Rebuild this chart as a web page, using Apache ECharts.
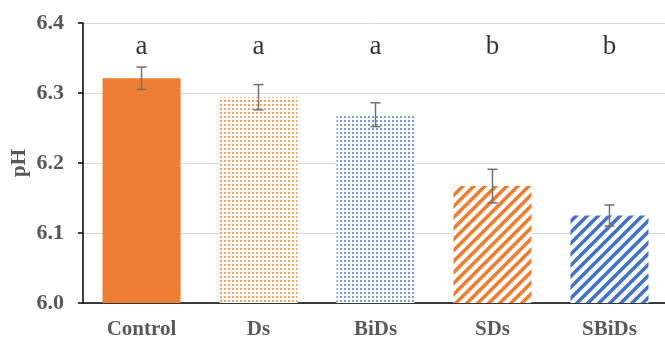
<!DOCTYPE html>
<html>
<head>
<meta charset="utf-8">
<script src="https://cdn.jsdelivr.net/npm/echarts@6/dist/echarts.min.js"></script>
<style>
  html, body { margin: 0; padding: 0; background: #ffffff; }
  #chart { width: 665px; height: 339px; }
</style>
</head>
<body>
<div id="chart"></div>
<script>
// Treatments and measured soil pH (mean ± error)
const categories = ['Control', 'Ds', 'BiDs', 'SDs', 'SBiDs'];
const phMean = [6.321, 6.294, 6.269, 6.167, 6.125];
const phError = [0.016, 0.018, 0.017, 0.024, 0.015];
const groupLetters = ['a', 'a', 'a', 'b', 'b'];
const letterLevel = 6.366;
const yTicks = [6.0, 6.1, 6.2, 6.3, 6.4];

const ORANGE = '#ED7D31';
const BLUE = '#4472C4';
const TEXT_GRAY = '#595959';
const FONT = '"Liberation Serif", "Times New Roman", serif';

// Small dotted fill tile
function dotPattern(color) {
  const c = document.createElement('canvas');
  c.width = 4; c.height = 4;
  const ctx = c.getContext('2d');
  ctx.fillStyle = '#ffffff';
  ctx.fillRect(0, 0, 4, 4);
  ctx.globalAlpha = 0.7;
  ctx.fillStyle = color;
  ctx.fillRect(0, 0, 2, 2);
  return { image: c, repeat: 'repeat' };
}

// Wide upward diagonal stripe tile
function stripePattern(color) {
  const s = 11;
  const c = document.createElement('canvas');
  c.width = s; c.height = s;
  const ctx = c.getContext('2d');
  ctx.fillStyle = '#ffffff';
  ctx.fillRect(0, 0, s, s);
  ctx.strokeStyle = color;
  ctx.lineWidth = 3.6;
  ctx.beginPath();
  ctx.moveTo(-2, s + 2); ctx.lineTo(s + 2, -2);
  ctx.moveTo(-2, 2); ctx.lineTo(2, -2);
  ctx.moveTo(s - 2, s + 2); ctx.lineTo(s + 2, s - 2);
  ctx.stroke();
  return { image: c, repeat: 'repeat' };
}

const barFills = [
  ORANGE,
  dotPattern(ORANGE),
  dotPattern(BLUE),
  stripePattern(ORANGE),
  stripePattern(BLUE)
];

const chart = echarts.init(document.getElementById('chart'), null, { renderer: 'canvas' });

chart.setOption({
  backgroundColor: '#ffffff',
  animation: false,
  grid: { left: 83, top: 23, width: 585, bottom: 36, containLabel: false, outerBoundsMode: 'none' },
  xAxis: {
    type: 'category',
    data: categories,
    axisLine: { lineStyle: { color: '#000000', width: 1.5 } },
    axisTick: { show: false },
    axisLabel: {
      color: TEXT_GRAY, fontFamily: FONT, fontWeight: 'bold', fontSize: 21, margin: 16
    }
  },
  yAxis: {
    type: 'value',
    min: yTicks[0],
    max: yTicks[yTicks.length - 1],
    interval: 0.1,
    name: 'pH',
    nameLocation: 'middle',
    nameRotate: 90,
    nameGap: 53,
    nameMoveOverlap: false,
    nameTextStyle: { color: TEXT_GRAY, fontFamily: FONT, fontWeight: 'bold', fontSize: 21 },
    axisLine: { show: true, lineStyle: { color: '#000000', width: 1.5 } },
    axisTick: { show: true, length: 5, lineStyle: { color: '#000000', width: 1.5 } },
    splitLine: { lineStyle: { color: '#d9d9d9', width: 1 } },
    axisLabel: {
      color: TEXT_GRAY, fontFamily: FONT, fontWeight: 'bold', fontSize: 22, margin: 19,
      formatter: v => v.toFixed(1)
    }
  },
  series: [
    {
      type: 'bar',
      barWidth: 78,
      data: phMean.map((v, i) => ({ value: v, itemStyle: { color: barFills[i] } })),
      z: 2
    },
    {
      type: 'custom',
      z: 5,
      data: phMean.map((v, i) => [i, v - phError[i], v + phError[i]]),
      renderItem: function (params, api) {
        const lo = api.coord([api.value(0), api.value(1)]);
        const hi = api.coord([api.value(0), api.value(2)]);
        const half = 5;
        const style = { stroke: '#707070', lineWidth: 1.5 };
        return {
          type: 'group',
          children: [
            { type: 'line', shape: { x1: hi[0], y1: hi[1], x2: lo[0], y2: lo[1] }, style },
            { type: 'line', shape: { x1: hi[0] - half, y1: hi[1], x2: hi[0] + half, y2: hi[1] }, style },
            { type: 'line', shape: { x1: lo[0] - half, y1: lo[1], x2: lo[0] + half, y2: lo[1] }, style }
          ]
        };
      }
    },
    {
      type: 'scatter',
      symbolSize: 0,
      z: 6,
      data: groupLetters.map((t, i) => ({ value: [i, letterLevel], name: t })),
      label: {
        show: true,
        position: 'inside',
        formatter: p => p.name,
        color: '#000000',
        fontFamily: FONT,
        fontSize: 27
      }
    }
  ]
});
</script>
</body>
</html>
